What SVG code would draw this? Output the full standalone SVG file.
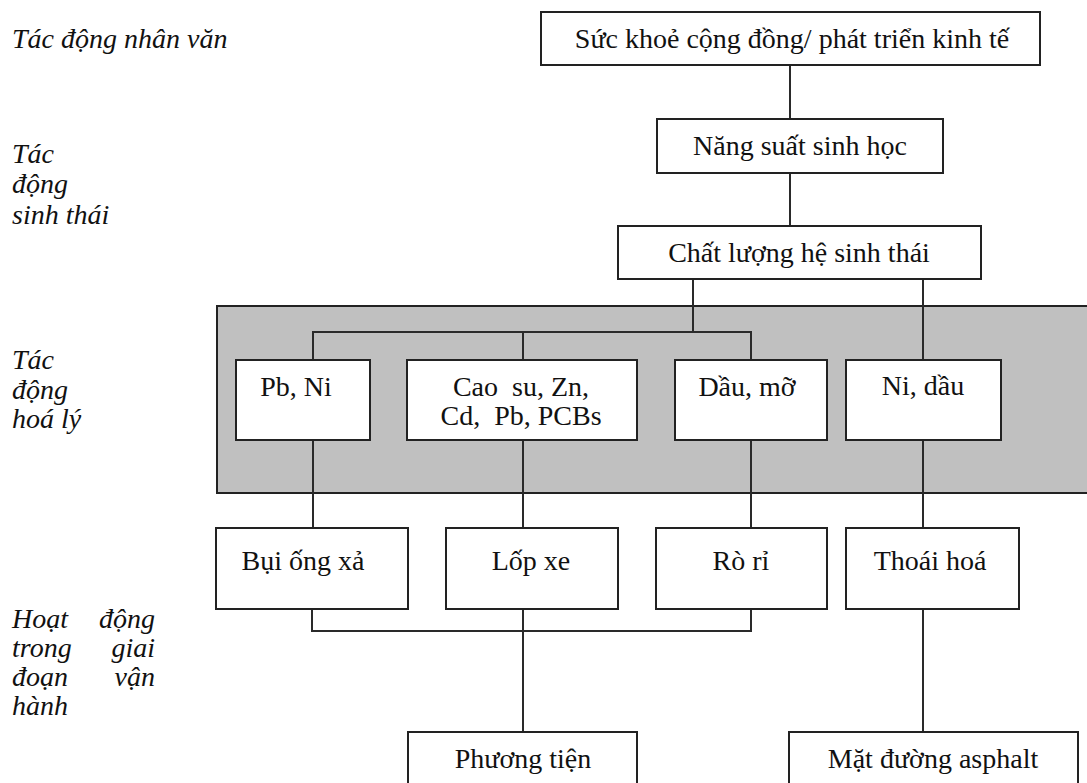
<svg xmlns="http://www.w3.org/2000/svg" width="1087" height="783" viewBox="0 0 1087 783">
<style>
  .bg { fill: #ffffff; }
  .zone { fill: #c0c0c0; stroke: #222222; stroke-width: 2; }
  .box { fill: #ffffff; stroke: #222222; stroke-width: 2; }
  .conn { fill: none; stroke: #2a2a2a; stroke-width: 2; }
  .t { font-family: "Liberation Serif", "DejaVu Serif", serif; font-size: 28px; fill: #111111; text-anchor: middle; white-space: pre; }
  .lab { font-family: "Liberation Serif", "DejaVu Serif", serif; font-size: 28px; font-style: italic; fill: #111111; }
  .end { text-anchor: end; }
</style>
<rect class="bg" x="0" y="0" width="1087" height="783"/>

<g id="labels">
  <text class="lab" x="12" y="48">Tác động nhân văn</text>
  <text class="lab" x="12" y="163">Tác</text>
  <text class="lab" x="12" y="193">động</text>
  <text class="lab" x="12" y="224">sinh thái</text>
  <text class="lab" x="12" y="369">Tác</text>
  <text class="lab" x="12" y="399">động</text>
  <text class="lab" x="12" y="428">hoá lý</text>
  <text class="lab" x="12" y="628">Hoạt</text>
  <text class="lab end" x="155" y="628">động</text>
  <text class="lab" x="12" y="657">trong</text>
  <text class="lab end" x="155" y="657">giai</text>
  <text class="lab" x="12" y="686">đoạn</text>
  <text class="lab end" x="155" y="686">vận</text>
  <text class="lab" x="12" y="715">hành</text>
</g>

<g id="zone-physchem">
  <rect class="zone" x="217" y="306" width="880" height="187"/>
</g>

<g id="connectors">
  <line class="conn" x1="790" y1="65" x2="790" y2="119"/>
  <line class="conn" x1="790" y1="173" x2="790" y2="226"/>
  <polyline class="conn" points="693,279 693,332"/>
  <polyline class="conn" points="313,360 313,332 751,332 751,360"/>
  <line class="conn" x1="523" y1="332" x2="523" y2="360"/>
  <line class="conn" x1="923" y1="279" x2="923" y2="360"/>
  <line class="conn" x1="313" y1="440" x2="313" y2="528"/>
  <line class="conn" x1="523" y1="440" x2="523" y2="528"/>
  <line class="conn" x1="751" y1="440" x2="751" y2="528"/>
  <line class="conn" x1="923" y1="440" x2="923" y2="528"/>
  <polyline class="conn" points="312,609 312,631 751,631 751,609"/>
  <line class="conn" x1="523" y1="609" x2="523" y2="732"/>
  <line class="conn" x1="923" y1="609" x2="923" y2="732"/>
</g>

<g id="node-suckhoe">
  <rect class="box" x="541" y="12" width="499" height="53"/>
  <text class="t" x="792" y="48">Sức khoẻ cộng đồng/ phát triển kinh tế</text>
</g>
<g id="node-nangsuat">
  <rect class="box" x="657" y="119" width="286" height="54"/>
  <text class="t" x="800" y="155">Năng suất sinh học</text>
</g>
<g id="node-chatluong">
  <rect class="box" x="618" y="226" width="363" height="53"/>
  <text class="t" x="799" y="262">Chất lượng hệ sinh thái</text>
</g>
<g id="node-pbni">
  <rect class="box" x="236" y="360" width="134" height="80"/>
  <text class="t" x="296" y="396">Pb, Ni</text>
</g>
<g id="node-caosu">
  <rect class="box" x="407" y="360" width="230" height="80"/>
  <text class="t" x="521" y="396">Cao  su, Zn,</text>
  <text class="t" x="521" y="425">Cd,  Pb, PCBs</text>
</g>
<g id="node-daumo">
  <rect class="box" x="675" y="360" width="152" height="80"/>
  <text class="t" x="747" y="396">Dầu, mỡ</text>
</g>
<g id="node-nidau">
  <rect class="box" x="846" y="360" width="155" height="80"/>
  <text class="t" x="923" y="395">Ni, dầu</text>
</g>
<g id="node-bui">
  <rect class="box" x="216" y="528" width="192" height="81"/>
  <text class="t" x="303" y="570">Bụi ống xả</text>
</g>
<g id="node-lopxe">
  <rect class="box" x="446" y="528" width="172" height="81"/>
  <text class="t" x="531" y="570">Lốp xe</text>
</g>
<g id="node-rori">
  <rect class="box" x="656" y="528" width="171" height="81"/>
  <text class="t" x="741" y="570">Rò rỉ</text>
</g>
<g id="node-thoaihoa">
  <rect class="box" x="846" y="528" width="173" height="81"/>
  <text class="t" x="930" y="570">Thoái hoá</text>
</g>
<g id="node-phuongtien">
  <rect class="box" x="408" y="732" width="229" height="60"/>
  <text class="t" x="523" y="768">Phương tiện</text>
</g>
<g id="node-matduong">
  <rect class="box" x="789" y="732" width="289" height="60"/>
  <text class="t" x="933" y="768">Mặt đường asphalt</text>
</g>
</svg>
